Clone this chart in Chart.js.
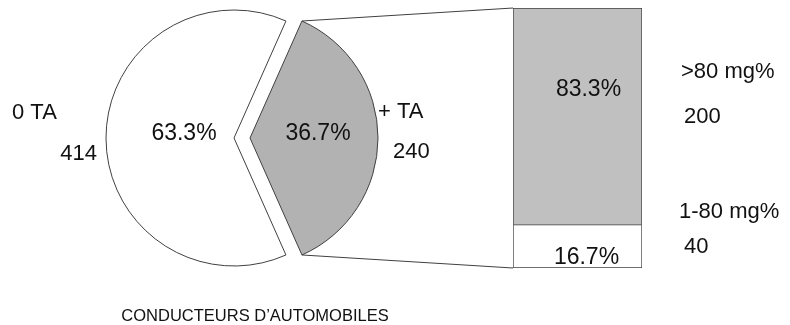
<!DOCTYPE html>
<html>
<head>
<meta charset="utf-8">
<script src="https://cdn.jsdelivr.net/npm/chart.js@4/dist/chart.umd.min.js"></script>
<style>
  html, body { margin: 0; padding: 0; background: #ffffff; }
  #wrap { position: relative; width: 790px; height: 325px; }
  #wrap canvas { position: absolute; left: 0; top: 0; }
</style>
</head>
<body>
<div id="wrap">
  <canvas id="pie" width="790" height="325"></canvas>
  <canvas id="bar" width="790" height="325"></canvas>
</div>
<script>
// Drivers: alcohol test result (pie) and blood alcohol breakdown of the positive ones (bar)
const pieLabels = ['+ TA', '0 TA'];
const pieValues = [240, 414];
const barLabels = ['1-80 mg%', '>80 mg%'];
const barValues = [40, 200];
const chartTitle = 'CONDUCTEURS D\u2019AUTOMOBILES';

const FONT = '"Liberation Sans", Arial, sans-serif';
const LINE = '#404040';
const INK = '#111111';

const sum = a => a.reduce((s, v) => s + v, 0);
const pct = (v, total) => (v / total * 100).toFixed(1) + '%';
const pieTotal = sum(pieValues);
const barTotal = sum(barValues);
// centre the first slice on the right-hand side
const pieRotation = 90 - (pieValues[0] / pieTotal * 360) / 2;

// pulls every slice away from the centre along its mid angle
const explodePlugin = {
  id: 'explode',
  afterDatasetsUpdate(chart, args, opts) {
    chart.getDatasetMeta(0).data.forEach(el => {
      const mid = (el.startAngle + el.endAngle) / 2;
      el.x += Math.cos(mid) * opts.distance;
      el.y += Math.sin(mid) * opts.distance;
    });
  }
};

function text(ctx, str, x, y, size, align) {
  ctx.font = size + 'px ' + FONT;
  ctx.fillStyle = INK;
  ctx.textAlign = align;
  ctx.textBaseline = 'alphabetic';
  ctx.fillText(str, x, y);
}

// percentages inside the slices, names and counts around them
const pieLabelPlugin = {
  id: 'pieLabels',
  afterDatasetsDraw(chart) {
    const ctx = chart.ctx;
    const arcs = chart.getDatasetMeta(0).data;
    const inside = [68, 50];
    ctx.save();
    arcs.forEach((el, i) => {
      const mid = (el.startAngle + el.endAngle) / 2;
      text(ctx, pct(pieValues[i], pieTotal), el.x + Math.cos(mid) * inside[i], el.y + 2, 23, 'center');
    });
    const g = arcs[0], w = arcs[1];
    text(ctx, pieLabels[0], g.x + g.outerRadius, g.y - 20, 22, 'left');
    text(ctx, String(pieValues[0]), g.x + g.outerRadius + 15, g.y + 20, 22, 'left');
    text(ctx, pieLabels[1], w.x - 222, w.y - 19, 22, 'left');
    text(ctx, String(pieValues[1]), w.x - 137, w.y + 22, 22, 'right');
    text(ctx, chartTitle, chart.chartArea.left + (chart.chartArea.right - chart.chartArea.left) / 2 + 13, 321, 16.5, 'center');
    ctx.restore();
  }
};

const pieChart = new Chart(document.getElementById('pie'), {
  type: 'pie',
  data: {
    labels: pieLabels,
    datasets: [{
      data: pieValues,
      backgroundColor: ['#b2b2b2', '#ffffff'],
      borderColor: LINE,
      borderWidth: 1
    }]
  },
  options: {
    responsive: false,
    animation: false,
    events: [],
    rotation: pieRotation,
    radius: 128,
    layout: { padding: { left: 0, right: 306, top: 0, bottom: 49 } },
    plugins: {
      legend: { display: false },
      tooltip: { enabled: false },
      explode: { distance: 8 }
    }
  },
  plugins: [explodePlugin, pieLabelPlugin]
});

// connector lines from the positive slice to the bar, plus the bar's labels
const barDecorPlugin = {
  id: 'barDecor',
  beforeDatasetsDraw(chart) {
    const ctx = chart.ctx;
    const g = pieChart.getDatasetMeta(0).data[0];
    const low = chart.getDatasetMeta(0).data[0];
    const high = chart.getDatasetMeta(1).data[0];
    const left = high.x - high.width / 2;
    ctx.save();
    ctx.strokeStyle = LINE;
    ctx.lineWidth = 1;
    ctx.beginPath();
    ctx.moveTo(g.x + g.outerRadius * Math.cos(g.startAngle), g.y + g.outerRadius * Math.sin(g.startAngle));
    ctx.lineTo(left, high.y);
    ctx.moveTo(g.x + g.outerRadius * Math.cos(g.endAngle), g.y + g.outerRadius * Math.sin(g.endAngle));
    ctx.lineTo(left, low.base);
    ctx.stroke();
    ctx.restore();
  },
  afterDatasetsDraw(chart) {
    const ctx = chart.ctx;
    const low = chart.getDatasetMeta(0).data[0];
    const high = chart.getDatasetMeta(1).data[0];
    const right = high.x + high.width / 2;
    ctx.save();
    text(ctx, pct(barValues[1], barTotal), high.x + 11, high.y + 88, 23, 'center');
    text(ctx, pct(barValues[0], barTotal), low.x + 9, low.base - 4, 23, 'center');
    text(ctx, barLabels[1], right + 39, 78, 22, 'left');
    text(ctx, String(barValues[1]), right + 42, 123, 22, 'left');
    text(ctx, barLabels[0], right + 37, 218, 22, 'left');
    text(ctx, String(barValues[0]), right + 42, 253, 22, 'left');
    ctx.restore();
  }
};

new Chart(document.getElementById('bar'), {
  type: 'bar',
  data: {
    labels: [pieLabels[0]],
    datasets: [
      { label: barLabels[0], data: [barValues[0]], backgroundColor: '#ffffff',
        borderColor: LINE, borderWidth: 1, borderSkipped: false },
      { label: barLabels[1], data: [barValues[1]], backgroundColor: '#c0c0c0',
        borderColor: LINE, borderWidth: 1, borderSkipped: 'start' }
    ]
  },
  options: {
    responsive: false,
    animation: false,
    events: [],
    layout: { padding: { left: 513, right: 148, top: 8, bottom: 57 } },
    datasets: { bar: { barPercentage: 1, categoryPercentage: 1 } },
    scales: {
      x: { display: false, stacked: true },
      y: { display: false, stacked: true, min: 0, max: barTotal }
    },
    plugins: { legend: { display: false }, tooltip: { enabled: false } }
  },
  plugins: [barDecorPlugin]
});
</script>
</body>
</html>
